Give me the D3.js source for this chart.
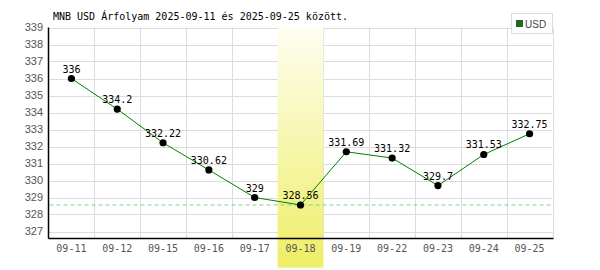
<!DOCTYPE html>
<html><head><meta charset="utf-8">
<script src="https://cdn.jsdelivr.net/npm/d3@7"></script>
<style>body{margin:0;background:#fff}</style>
</head><body>
<svg id="c" width="600" height="270"></svg>
<script>
const categories = ["09-11","09-12","09-15","09-16","09-17","09-18","09-19","09-22","09-23","09-24","09-25"];
const values = [336, 334.2, 332.22, 330.62, 329, 328.56, 331.69, 331.32, 329.7, 331.53, 332.75];
const valueLabels = ["336","334.2","332.22","330.62","329","328.56","331.69","331.32","329.7","331.53","332.75"];
const yTicks = [327,328,329,330,331,332,333,334,335,336,337,338,339];
const title = "MNB USD Árfolyam 2025-09-11 és 2025-09-25 között.";
const seriesName = "USD";
const highlightCat = "09-18";
const minValue = 328.56;

const svg = d3.select("#c");
const L = 48.5, R = 552.5, T = 27.5, B = 238.5;
const x = d3.scaleBand().domain(categories).range([L, R]);
const y = d3.scaleLinear().domain([327, 339]).range([231.5, T]);
const mono = "'DejaVu Sans Mono', monospace";

// gradient for highlight
const defs = svg.append("defs");
const g = defs.append("linearGradient").attr("id","hl").attr("x1",0).attr("y1",0).attr("x2",0).attr("y2",1);
g.append("stop").attr("offset","0%").attr("stop-color","#fefef2");
g.append("stop").attr("offset","100%").attr("stop-color","#eeee66");

// horizontal gridlines
svg.append("g").selectAll("line").data(yTicks).join("line")
  .attr("x1", L).attr("x2", R).attr("y1", d=>Math.round(y(d))+0.5).attr("y2", d=>Math.round(y(d))+0.5)
  .attr("stroke","#dcdcdc").attr("stroke-width",1);
// vertical gridlines
svg.append("g").selectAll("line").data(categories.slice(1).concat(["__end"])).join("line")
  .attr("x1", (d,i)=>Math.round(x(categories[0]) + x.step()*(i+1))+0.5)
  .attr("x2", (d,i)=>Math.round(x(categories[0]) + x.step()*(i+1))+0.5)
  .attr("y1", T).attr("y2", B)
  .attr("stroke","#dcdcdc").attr("stroke-width",1);

// highlight band
svg.append("rect").attr("x", x(highlightCat)).attr("width", x.bandwidth())
  .attr("y", T - 0.5).attr("height", 268 - T).attr("fill","url(#hl)");

// min dashed line
svg.append("line").attr("x1", L+1).attr("x2", R).attr("y1", y(minValue)).attr("y2", y(minValue))
  .attr("stroke","#88cc88").attr("stroke-dasharray","4,3").attr("stroke-width",1);

// axes
svg.append("line").attr("x1", L).attr("x2", L).attr("y1", T).attr("y2", B).attr("stroke","#000").attr("stroke-width",1.5);
svg.append("line").attr("x1", L).attr("x2", R+1).attr("y1", B).attr("y2", B).attr("stroke","#000").attr("stroke-width",1.5);

// y tick labels
svg.append("g").selectAll("text").data(yTicks).join("text")
  .attr("x", 43).attr("y", d=>y(d)).attr("dy","0.35em").attr("text-anchor","end")
  .attr("font-family","'Liberation Sans', Arial, sans-serif").attr("font-size",11).attr("fill","#555")
  .text(d=>d);
// x tick labels
svg.append("g").selectAll("text").data(categories).join("text")
  .attr("x", d=>x(d)+x.bandwidth()/2).attr("y", 251.5).attr("text-anchor","middle")
  .attr("font-family",mono).attr("font-size",10).attr("fill","#555")
  .text(d=>d);

// line
const line = d3.line().x((d,i)=>x(categories[i])+x.bandwidth()/2).y(d=>y(d));
svg.append("path").datum(values).attr("d", line).attr("fill","none").attr("stroke","#008000").attr("stroke-width",1);
// points
svg.append("g").selectAll("circle").data(values).join("circle")
  .attr("cx",(d,i)=>x(categories[i])+x.bandwidth()/2).attr("cy",d=>y(d)).attr("r",3.6).attr("fill","#000");
// value labels
svg.append("g").selectAll("text").data(values).join("text")
  .attr("x",(d,i)=>x(categories[i])+x.bandwidth()/2).attr("y",d=>y(d)-6).attr("text-anchor","middle")
  .attr("font-family",mono).attr("font-size",10).attr("fill","#000")
  .text((d,i)=>valueLabels[i]);

// title
svg.append("text").attr("x",53).attr("y",19.5).attr("font-family",mono).attr("font-size",10).attr("fill","#000").text(title);

// legend
svg.append("rect").attr("x",511.5).attr("y",13.5).attr("width",41).attr("height",20).attr("fill","#fff").attr("stroke","#dcdcdc");
svg.append("rect").attr("x",516.5).attr("y",20.5).attr("width",6).attr("height",6).attr("fill","#008000").attr("stroke","#333").attr("stroke-width",0.8);
svg.append("text").attr("x",525).attr("y",27.5).attr("font-family","'Liberation Sans', Arial, sans-serif").attr("font-size",10).attr("fill","#444").text(seriesName);
</script>
</body></html>
